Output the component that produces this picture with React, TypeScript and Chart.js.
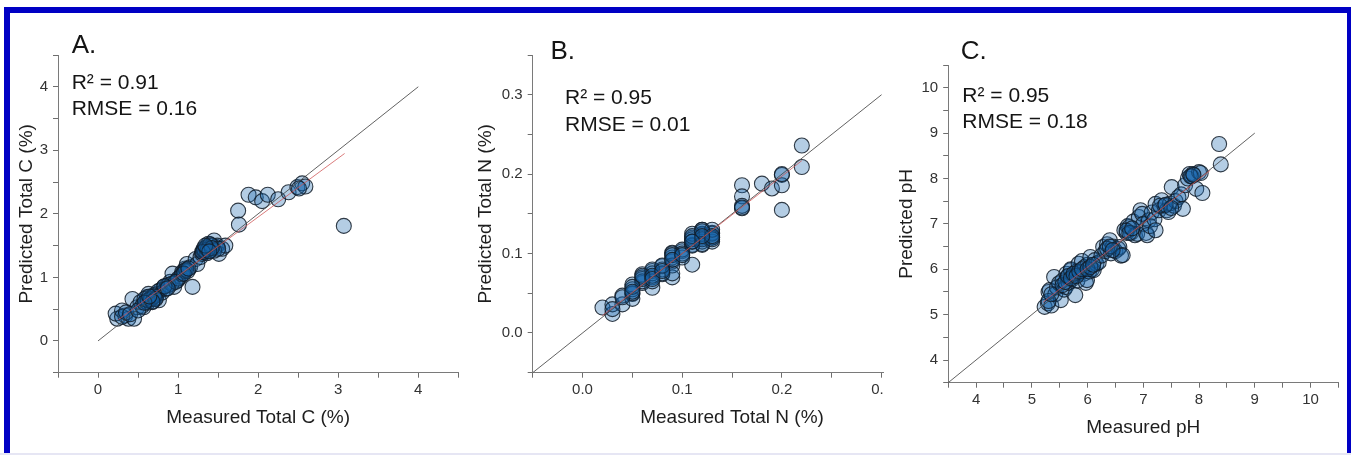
import React, { useEffect, useRef } from "react";
import { Chart, registerables } from "chart.js";

Chart.register(...registerables);

// ---------- Panel A: Total C ----------
const aMeasured = [
  0.24, 0.22, 0.30, 0.34, 0.38, 0.45, 0.43, 0.49, 0.53, 0.57,
  0.61, 0.63, 0.68, 0.70, 0.74, 0.78, 0.76, 0.82, 0.86, 0.90,
  0.93, 0.95, 0.99, 1.03, 1.05, 1.09, 1.11, 1.15, 1.18, 1.22,
  1.24, 1.28, 1.30, 1.32, 1.34, 1.36, 1.38, 1.40, 1.45, 1.47,
  1.49, 1.51, 1.55, 1.59,
  0.30, 0.35, 0.40, 0.55, 0.60, 0.65, 0.67, 0.72, 0.75, 0.80,
  0.88, 0.92, 1.00, 1.05, 1.08, 1.12, 1.30, 1.32, 1.35, 1.36,
  1.38, 1.42, 1.45, 1.50, 0.62, 0.70, 0.85, 0.97, 0.50, 0.58,
  0.62, 0.66, 0.70, 0.72, 0.68, 0.58, 0.64, 1.33, 1.35, 1.37,
  1.40, 1.42, 1.31, 1.34, 1.39, 1.10, 1.07, 1.13, 0.83, 0.87,
  1.75, 1.76, 1.88, 1.97, 2.05, 2.12, 2.25, 2.38, 2.49, 2.55,
  2.59, 2.51, 3.07,
];
const aPredicted = [
  0.35, 0.43, 0.48, 0.40, 0.35, 0.35, 0.66, 0.53, 0.61, 0.53,
  0.69, 0.74, 0.61, 0.66, 0.74, 0.80, 0.64, 0.85, 0.87, 0.93,
  1.06, 0.85, 0.95, 1.01, 1.08, 1.14, 1.21, 1.16, 0.85, 1.29,
  1.21, 1.32, 1.37, 1.45, 1.40, 1.48, 1.53, 1.42, 1.58, 1.48,
  1.50, 1.37, 1.45, 1.50,
  0.38, 0.45, 0.42, 0.55, 0.62, 0.65, 0.70, 0.68, 0.78, 0.76,
  0.88, 0.90, 0.98, 1.05, 1.10, 1.10, 1.40, 1.42, 1.45, 1.38,
  1.45, 1.50, 1.42, 1.45, 0.60, 0.72, 0.82, 0.93, 0.48, 0.66,
  0.64, 0.66, 0.70, 0.66, 0.62, 0.60, 0.70, 1.43, 1.47, 1.44,
  1.52, 1.46, 1.40, 1.50, 1.41, 1.12, 1.06, 1.14, 0.86, 0.83,
  2.05, 1.83, 2.30, 2.26, 2.20, 2.30, 2.23, 2.34, 2.42, 2.48,
  2.43, 2.40, 1.81,
];
const aFitX = [0.25, 3.08];
const aFitY = [0.33, 2.95];
const aIdentity = [0, 4];

// ---------- Panel B: Total N ----------
const bMeasured = [
  0.02, 0.03, 0.03, 0.04, 0.04, 0.05, 0.05, 0.05, 0.06, 0.06,
  0.07, 0.07, 0.07, 0.08, 0.08, 0.09, 0.09, 0.09, 0.10, 0.11,
  0.11, 0.12, 0.12, 0.12, 0.13, 0.13, 0.16, 0.16, 0.16, 0.18,
  0.19, 0.20, 0.20, 0.20, 0.22, 0.22,
  0.10, 0.10, 0.11, 0.11, 0.12, 0.12, 0.12, 0.13, 0.13, 0.13,
  0.09, 0.09, 0.09, 0.08, 0.08, 0.07, 0.07, 0.06, 0.06, 0.05,
  0.05, 0.04, 0.03, 0.16, 0.20, 0.11, 0.09, 0.07, 0.08, 0.10,
  0.12, 0.13, 0.11,
  0.11, 0.11, 0.12, 0.12, 0.12, 0.13, 0.13, 0.09, 0.09, 0.10,
  0.06, 0.06, 0.07, 0.07, 0.08, 0.05, 0.05, 0.16, 0.12, 0.11,
];
const bPredicted = [
  0.032, 0.024, 0.036, 0.036, 0.047, 0.049, 0.043, 0.061, 0.074, 0.063,
  0.070, 0.057, 0.078, 0.074, 0.084, 0.070, 0.090, 0.101, 0.103, 0.086,
  0.111, 0.124, 0.130, 0.111, 0.120, 0.126, 0.186, 0.172, 0.157, 0.188,
  0.182, 0.199, 0.186, 0.155, 0.236, 0.209,
  0.095, 0.105, 0.115, 0.120, 0.120, 0.115, 0.125, 0.115, 0.125, 0.120,
  0.095, 0.100, 0.085, 0.080, 0.075, 0.075, 0.065, 0.070, 0.065, 0.055,
  0.050, 0.045, 0.030, 0.160, 0.200, 0.110, 0.075, 0.080, 0.085, 0.100,
  0.130, 0.130, 0.125,
  0.118, 0.122, 0.118, 0.128, 0.112, 0.118, 0.122, 0.098, 0.092, 0.098,
  0.068, 0.072, 0.072, 0.068, 0.078, 0.058, 0.052, 0.158, 0.122, 0.115,
];
const bFitX = [0.02, 0.22];
const bFitY = [0.022, 0.217];
const bIdentity = [-0.05, 0.3];

// ---------- Panel C: pH ----------
const cMeasured = [
  5.23, 5.29, 5.30, 5.32, 5.35, 5.40, 5.42, 5.45, 5.49, 5.52,
  5.55, 5.58, 5.61, 5.62, 5.64, 5.66, 5.70, 5.70, 5.72, 5.75,
  5.78, 5.80, 5.82, 5.84, 5.86, 5.90, 5.93, 5.95, 5.97, 5.99,
  6.00, 6.03, 6.05, 6.08, 6.11, 6.13, 6.16, 6.20, 6.25, 6.28,
  6.32, 6.35, 6.40, 6.42, 6.45, 6.50, 6.55, 6.57, 6.60, 6.63,
  6.66, 6.70, 6.72, 6.75, 6.78, 6.82, 6.85, 6.89, 6.92, 6.95,
  6.98, 7.00, 7.05, 7.07, 7.10, 7.12, 7.15, 7.20, 7.22, 7.22,
  7.28, 7.33, 7.38, 7.42, 7.45, 7.48, 7.51, 7.55, 7.58, 7.63,
  7.68, 7.71, 7.75, 7.80, 7.83, 7.87, 7.89, 7.95, 8.00, 8.03,
  8.06, 8.36, 8.39,
  5.55, 5.60, 5.65, 5.70, 5.75, 5.80, 5.85, 5.90, 6.00, 6.05,
  6.10, 6.35, 6.40, 6.45, 6.70, 6.75, 6.80, 7.30, 7.40, 7.50,
  7.85, 7.90, 5.30, 5.35,
];
const cPredicted = [
  5.17, 5.25, 5.50, 5.54, 5.20, 5.83, 5.45, 5.60, 5.69, 5.32,
  5.75, 5.55, 5.61, 5.90, 5.83, 5.70, 5.98, 6.00, 5.78, 5.85,
  5.43, 5.95, 5.75, 6.12, 5.92, 6.18, 5.90, 6.05, 5.70, 5.76,
  6.10, 5.95, 6.27, 6.00, 5.98, 6.20, 6.12, 6.15, 6.30, 6.49,
  6.40, 6.55, 6.64, 6.35, 6.50, 6.40, 6.45, 6.49, 6.30, 6.31,
  6.86, 6.80, 6.95, 6.93, 6.80, 7.05, 6.75, 6.78, 7.15, 7.30,
  7.22, 7.00, 6.80, 6.75, 7.08, 6.95, 7.25, 7.10, 7.44, 6.86,
  7.30, 7.52, 7.40, 7.30, 7.26, 7.45, 7.81, 7.40, 7.50, 7.59,
  7.65, 7.33, 7.85, 8.00, 8.10, 8.05, 8.10, 7.77, 8.14, 8.12,
  7.68, 8.76, 8.31,
  5.65, 5.72, 5.85, 5.80, 5.90, 5.85, 5.95, 6.00, 6.00, 6.05,
  6.10, 6.45, 6.50, 6.42, 6.85, 6.80, 6.90, 7.40, 7.42, 7.35,
  8.05, 8.08, 5.30, 5.45,
];
const cFitX = [5.2, 8.2];
const cFitY = [5.27, 8.18];
const cIdentity = [3.5, 9];

const TICK_FONT = '"Liberation Sans", Arial, sans-serif';
const TITLE_FONT = '"Liberation Sans", Arial, sans-serif';

const zip = (xs: number[], ys: number[]) => xs.map((x, i) => ({ x, y: ys[i] }));

const panelTextPlugin = {
  id: "panelText",
  afterDatasetsDraw(chart: any, _args: any, opts: any) {
    const ctx = chart.ctx;
    ctx.save();
    ctx.fillStyle = "#151515";
    ctx.textAlign = "left";
    ctx.textBaseline = "alphabetic";
    ctx.font = `26px ${TITLE_FONT}`;
    ctx.fillText(opts.letter, opts.letterX, opts.letterY);
    ctx.font = `21px ${TITLE_FONT}`;
    ctx.fillText(opts.r2, opts.textX, opts.r2Y);
    ctx.fillText(opts.rmse, opts.textX, opts.rmseY);
    ctx.restore();
  },
};

type PanelDef = {
  left: number;
  top: number;
  width: number;
  height: number;
  z: number;
  measured: number[];
  predicted: number[];
  fitX: number[];
  fitY: number[];
  identity: number[];
  min: number;
  max: number;
  step: number;
  majorEvery: number;
  digits: number;
  xTitle: string;
  yTitle: string;
  pad: { left: number; right: number; top: number; bottom: number };
  yWidth: number;
  xHeight: number;
  text: any;
};

const panels: PanelDef[] = [
  {
    left: 10, top: 13, width: 460, height: 440, z: 1,
    measured: aMeasured, predicted: aPredicted, fitX: aFitX, fitY: aFitY, identity: aIdentity,
    min: -0.5, max: 4.5, step: 0.5, majorEvery: 1, digits: 0,
    xTitle: "Measured Total C (%)", yTitle: "Predicted Total C (%)",
    pad: { left: 1, right: 11.7, top: 42, bottom: 20.2 }, yWidth: 47, xHeight: 60.1,
    text: { letter: "A.", letterX: 61.7, letterY: 40.3, r2: "R² = 0.91", rmse: "RMSE = 0.16", textX: 61.7, r2Y: 76.3, rmseY: 102 },
  },
  {
    left: 460, top: 13, width: 480, height: 440, z: 2,
    measured: bMeasured, predicted: bPredicted, fitX: bFitX, fitY: bFitY, identity: bIdentity,
    min: -0.05, max: 0.35, step: 0.05, majorEvery: 0.1, digits: 1,
    xTitle: "Measured Total N (%)", yTitle: "Predicted Total N (%)",
    pad: { left: 10.6, right: 7.3, top: 42, bottom: 20.2 }, yWidth: 62.1, xHeight: 60.1,
    text: { letter: "B.", letterX: 90.5, letterY: 46.3, r2: "R² = 0.95", rmse: "RMSE = 0.01", textX: 105, r2Y: 91, rmseY: 117.7 },
  },
  {
    left: 884, top: 13, width: 463, height: 440, z: 3,
    measured: cMeasured, predicted: cPredicted, fitX: cFitX, fitY: cFitY, identity: cIdentity,
    min: 3.5, max: 10.5, step: 0.5, majorEvery: 1, digits: 0,
    xTitle: "Measured pH", yTitle: "Predicted pH",
    pad: { left: 7.6, right: 0.3, top: 52, bottom: 10.2 }, yWidth: 56.6, xHeight: 60.1,
    text: { letter: "C.", letterX: 76.7, letterY: 46.3, r2: "R² = 0.95", rmse: "RMSE = 0.18", textX: 78.3, r2Y: 88.7, rmseY: 115.3 },
  },
];

function makeScale(p: PanelDef, axis: "x" | "y") {
  const isMajor = (v: number) => {
    const r = v / p.majorEvery;
    return Math.abs(r - Math.round(r)) < 1e-6;
  };
  return {
    type: "linear",
    position: axis === "x" ? "bottom" : "left",
    min: p.min,
    max: p.max,
    grid: {
      display: true,
      drawOnChartArea: false,
      drawTicks: true,
      tickLength: 5,
      tickColor: "#6e6e6e",
      tickWidth: 1,
    },
    border: { display: true, color: "#7a7a7a", width: 1 },
    ticks: {
      stepSize: p.step,
      maxTicksLimit: 100,
      autoSkip: false,
      maxRotation: 0,
      minRotation: 0,
      padding: axis === "x" ? 3 : 5,
      color: "#333333",
      font: { family: TICK_FONT, size: 15 },
      callback: (v: any) => {
        let n = Number(v);
        if (!isMajor(n)) return "";
        if (Math.abs(n) < 1e-9) n = 0;
        return n.toFixed(p.digits);
      },
    },
    title: {
      display: true,
      text: axis === "x" ? p.xTitle : p.yTitle,
      color: "#1e1e1e",
      font: { family: TITLE_FONT, size: 19 },
      padding: { top: 4, bottom: 4 },
    },
    afterFit: (s: any) => {
      if (axis === "x") s.height = p.xHeight;
      else s.width = p.yWidth;
      s.paddingTop = 0;
      s.paddingBottom = 0;
      s.paddingLeft = 0;
      s.paddingRight = 0;
    },
  };
}

function Panel({ p }: { p: PanelDef }) {
  const ref = useRef<HTMLCanvasElement | null>(null);
  useEffect(() => {
    if (!ref.current) return;
    const chart = new Chart(ref.current, {
      type: "scatter",
      data: {
        datasets: [
          {
            label: "fit",
            data: zip(p.fitX, p.fitY),
            showLine: true,
            borderColor: "rgba(205,80,80,0.75)",
            borderWidth: 1,
            pointRadius: 0,
            order: 0,
          },
          {
            label: "1:1",
            data: zip(p.identity, p.identity),
            showLine: true,
            borderColor: "rgba(70,70,70,0.85)",
            borderWidth: 1,
            pointRadius: 0,
            order: 1,
          },
          {
            label: "samples",
            data: zip(p.measured, p.predicted),
            pointRadius: 7.5,
            pointBorderWidth: 1.1,
            borderColor: "rgba(18,28,40,0.85)",
            backgroundColor: "rgba(22,100,170,0.32)",
            order: 2,
          },
        ],
      },
      options: {
        animation: false,
        responsive: false,
        maintainAspectRatio: false,
        devicePixelRatio: 1,
        layout: { padding: p.pad },
        plugins: {
          legend: { display: false },
          tooltip: { enabled: false },
          panelText: p.text,
        } as any,
        scales: {
          x: makeScale(p, "x") as any,
          y: makeScale(p, "y") as any,
        },
      },
      plugins: [panelTextPlugin],
    });
    return () => chart.destroy();
  }, []);
  return (
    <canvas
      ref={ref}
      width={p.width}
      height={p.height}
      style={{
        position: "absolute",
        left: p.left,
        top: p.top,
        width: p.width,
        height: p.height,
        background: "#ffffff",
        zIndex: p.z,
      }}
    />
  );
}

export default function App() {
  return (
    <div
      style={{
        position: "fixed",
        left: 0,
        top: 0,
        width: 1351,
        height: 455,
        background: "#ffffff",
        overflow: "hidden",
      }}
    >
      {panels.map((p, i) => (
        <Panel key={i} p={p} />
      ))}
      <div
        style={{
          position: "absolute",
          left: 4,
          top: 7,
          width: 1351 - 4 - 6 - 4 + 10,
          height: 455 - 7,
          borderTop: "6px solid #0000c4",
          borderLeft: "6px solid #0000c4",
          borderRight: "4px solid #0000c4",
          boxSizing: "border-box",
          zIndex: 10,
          pointerEvents: "none",
        }}
      />
      <div
        style={{
          position: "absolute",
          left: 0,
          top: 453,
          width: 1351,
          height: 2,
          background: "#e6e6f4",
          zIndex: 11,
        }}
      />
    </div>
  );
}
